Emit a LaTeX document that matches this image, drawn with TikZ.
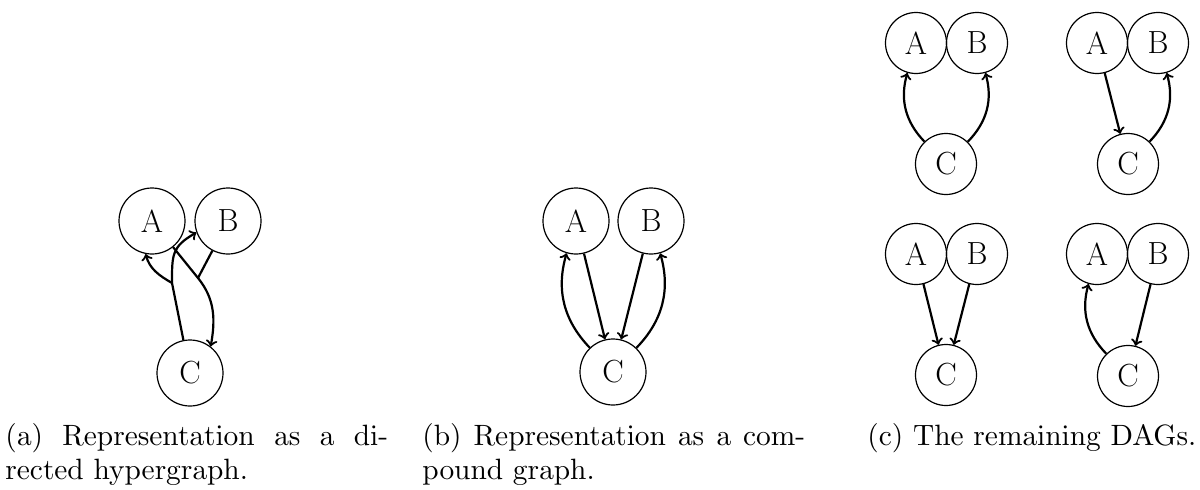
\documentclass[tikz,border=0pt]{standalone}
\font\capfnt=cmr10 at 14.7pt
\begin{document}
\begin{tikzpicture}[x=0.5pt,y=0.5pt,
  vtx/.style={circle,draw,line width=0.6pt,inner sep=0pt,minimum size=33pt,font=\fontsize{16}{19}\selectfont},
  vtxs/.style={vtx,minimum size=30.5pt},
  ln/.style={line width=1.1pt},
  arr/.style={ln,->},
  captxt/.style={anchor=base west,inner sep=0pt}]
\useasboundingbox (0,0) rectangle (1200,489);
% (a) directed hypergraph
\node[vtx] (aA) at (152,268) {A};
\node[vtx] (aB) at (228,268) {B};
\node[vtx] (aC) at (190,116) {C};
\coordinate (J1) at (172,206);
\coordinate (J2) at (198,211);
\draw[ln] (aC) -- (J1);
\draw[arr] (J1) to[out=150,in=-75] (aA.259);
\draw[arr] (J1) to[out=90,in=210,looseness=1.3] (aB.200);
\draw[arr] (aA) -- (J2) to[out=-51,in=80] (aC.52);
\draw[ln] (aB) -- (J2);
% (b) compound graph
\node[vtx] (bA) at (576,268) {A};
\node[vtx] (bB) at (651,268) {B};
\node[vtx] (bC) at (613,117) {C};
\draw[arr] (bC) to[bend left=30] (bA);
\draw[arr] (bA) -- (bC);
\draw[arr] (bB) -- (bC);
\draw[arr] (bC) to[bend right=30] (bB);
% (c) remaining DAGs
\node[vtxs] (c1A) at (916,446) {A};
\node[vtxs] (c1B) at (977,446) {B};
\node[vtxs] (c1C) at (946,325) {C};
\draw[arr] (c1C) to[bend left=30] (c1A);
\draw[arr] (c1C) to[bend right=30] (c1B);
\node[vtxs] (c2A) at (1097,446) {A};
\node[vtxs] (c2B) at (1158,446) {B};
\node[vtxs] (c2C) at (1128,325) {C};
\draw[arr] (c2A) -- (c2C);
\draw[arr] (c2C) to[bend right=30] (c2B);
\node[vtxs] (c3A) at (916,235) {A};
\node[vtxs] (c3B) at (977,235) {B};
\node[vtxs] (c3C) at (946,114) {C};
\draw[arr] (c3A) -- (c3C);
\draw[arr] (c3B) -- (c3C);
\node[vtxs] (c4A) at (1097,235) {A};
\node[vtxs] (c4B) at (1158,235) {B};
\node[vtxs] (c4C) at (1128,113) {C};
\draw[arr] (c4C) to[bend left=30] (c4A);
\draw[arr] (c4B) -- (c4C);
% captions
\node[captxt] (capa) at (5,44) {\capfnt\vtop{\baselineskip=17pt\hbox to 191.5pt{(a) Representation as a di-}\hbox{rected hypergraph.}}};
\node[captxt] (capb) at (422,44) {\capfnt\vtop{\baselineskip=17pt\hbox to 191.5pt{(b) Representation as a com-}\hbox{pound graph.}}};
\node[captxt] (capc) at (867,44) {\capfnt (c) The remaining DAGs.};
\end{tikzpicture}
\end{document}
